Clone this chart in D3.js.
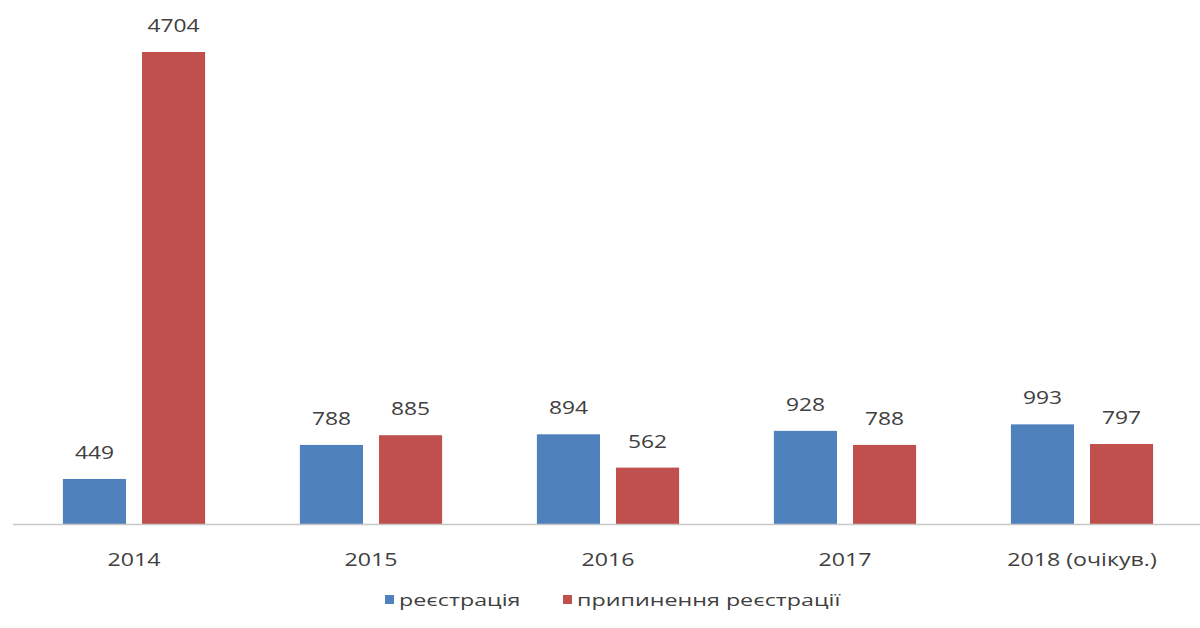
<!DOCTYPE html>
<html>
<head>
<meta charset="utf-8">
<script src="https://cdn.jsdelivr.net/npm/d3@7"></script>
<style>
  html, body { margin: 0; padding: 0; background: #fff; }
  svg { display: block; }
  text { font-family: "Open Sans", "DejaVu Sans", sans-serif; fill: #404040; }
</style>
</head>
<body>
<svg id="chart" width="1200" height="628"></svg>
<script>
const categories = ["2014", "2015", "2016", "2017", "2018 (очікув.)"];
const seriesNames = ["реєстрація", "припинення реєстрації"];
const registration = [449, 788, 894, 928, 993];
const termination = [4704, 885, 562, 788, 797];
const colors = ["#4F81BD", "#C0504D"];

const svg = d3.select("#chart");
const baseline = 524, topY = 52;

const x0 = d3.scaleBand().domain(categories).range([15.5, 1200.5]).paddingInner(0.4).paddingOuter(0.2);
const x1 = d3.scaleBand().domain(seriesNames).range([0, x0.bandwidth()]).paddingInner(16 / 79).paddingOuter(0);
const y = d3.scaleLinear().domain([0, 4704]).range([baseline, topY]);

const data = categories.map((c, i) => ({
  cat: c,
  vals: [
    { s: seriesNames[0], v: registration[i], c: colors[0] },
    { s: seriesNames[1], v: termination[i], c: colors[1] }
  ]
}));

const groups = svg.selectAll("g.grp").data(data).join("g")
  .attr("class", "grp")
  .attr("transform", d => `translate(${x0(d.cat)},0)`);

groups.selectAll("rect").data(d => d.vals).join("rect")
  .attr("x", d => x1(d.s))
  .attr("width", x1.bandwidth())
  .attr("y", d => y(d.v))
  .attr("height", d => baseline - y(d.v))
  .attr("fill", d => d.c);

groups.selectAll("text.val").data(d => d.vals).join("text")
  .attr("class", "val")
  .attr("transform", d => `translate(${x1(d.s) + x1.bandwidth() / 2},${y(d.v) - 20}) scale(1.2,1)`)
  .attr("text-anchor", "middle")
  .style("font-size", "19px")
  .text(d => d.v);

// x axis
const xAxis = d3.axisBottom(x0).tickSize(0).tickSizeOuter(0);
const ax = svg.append("g").attr("transform", `translate(0,${baseline})`).call(xAxis);
ax.select(".domain").remove();
ax.selectAll("text")
  .style("font-size", "19px")
  .attr("dy", "0").attr("y", null)
  .attr("transform", "translate(0,42) scale(1.22,1)")
  .attr("fill", "#404040");
svg.append("line").attr("x1", 13).attr("x2", 1200).attr("y1", baseline + 0.5).attr("y2", baseline + 0.5)
  .attr("stroke", "#c8c8c8").attr("stroke-width", 1.5);

// legend
const legendX = [385, 563];
const lg = svg.selectAll("g.leg").data(seriesNames).join("g")
  .attr("class", "leg")
  .attr("transform", (d, i) => `translate(${legendX[i]},595)`);
lg.append("rect").attr("width", 9).attr("height", 9).attr("fill", (d, i) => colors[i]);
lg.append("text").attr("transform", "translate(14,10.5) scale(1.37,1)").style("font-size", "17px").text(d => d);
</script>
</body>
</html>
